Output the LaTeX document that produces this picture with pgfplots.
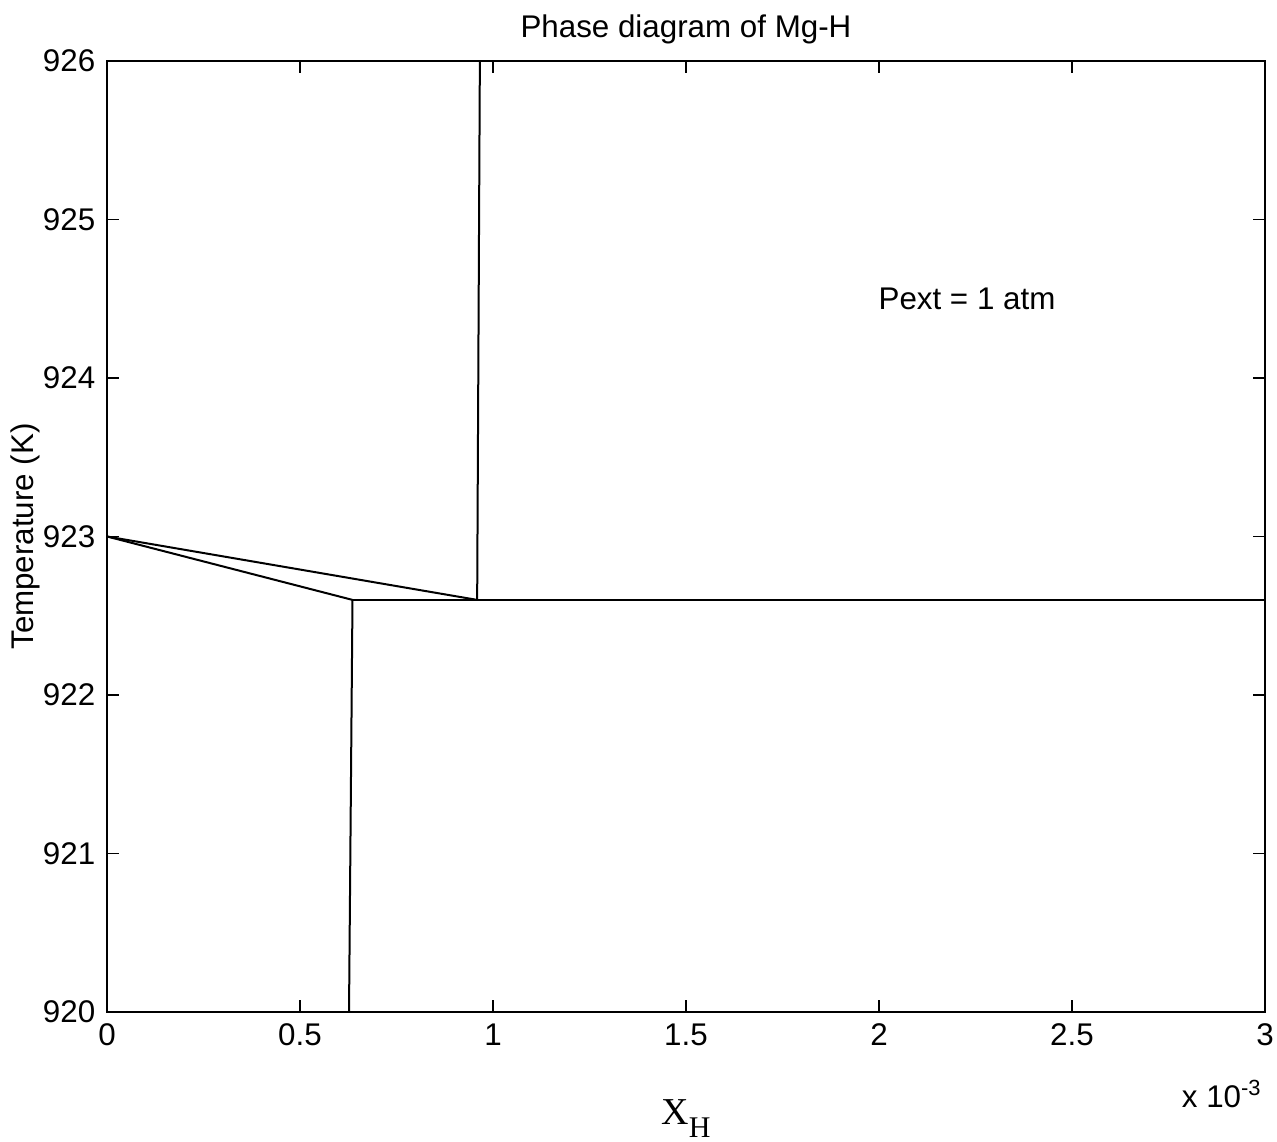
\documentclass[border=0pt]{standalone}
\usepackage{fontspec}
\setmainfont{Liberation Sans}
\newfontfamily\seriffont{Liberation Serif}
\usepackage{pgfplots}
\pgfplotsset{compat=1.18}
\begin{document}
\begin{tikzpicture}[font=\fontsize{9.4}{11}\selectfont]
\begin{axis}[
  scale only axis,
  width=347.4pt, height=285.3pt,
  xmin=0, xmax=0.003, ymin=920, ymax=926,
  xtick={0,0.0005,0.001,0.0015,0.002,0.0025,0.003},
  xticklabels={0,0.5,1,1.5,2,2.5,3},
  scaled x ticks=false,
  ytick={920,921,922,923,924,925,926},
  /pgf/number format/assume math mode=true,
  yticklabel style={/pgf/number format/1000 sep={}},
  tick align=inside,
  major tick length=3.6pt,
  tick style={black, line width=0.5pt},
  axis line style={line width=0.6pt},
  xtick pos=both, ytick pos=both,
  every axis title shift=0pt,
  title={Phase diagram of Mg-H},
  title style={at={(rel axis cs:0.5,1)}, anchor=center, yshift=9.6pt},
  xlabel={{\seriffont\fontsize{11.4}{13}\selectfont X\raisebox{-3.6pt}{\fontsize{9}{10}\selectfont H}}},
  xlabel style={at={(rel axis cs:0.5,0)}, anchor=base, yshift=-33.9pt},
  clip=false,
]
\coordinate (sw) at (rel axis cs:0,0);
\addplot[black, line width=0.6pt] coordinates {(0.000966,926) (0.000959,922.6)};
\addplot[black, line width=0.6pt] coordinates {(0,923) (0.000959,922.6)};
\addplot[black, line width=0.6pt] coordinates {(0,923) (0.000636,922.6)};
\addplot[black, line width=0.6pt] coordinates {(0.000636,922.6) (0.003,922.6)};
\addplot[black, line width=0.6pt] coordinates {(0.000636,922.6) (0.000627,920)};
\node[anchor=center] at (axis cs:0.002228,924.5) {Pext = 1 atm};
\node[rotate=90, anchor=center] at ([xshift=-24.6pt]rel axis cs:0,0.5) {Temperature (K)};
\node[anchor=base east, inner sep=0pt] at ([yshift=-28.8pt, xshift=-0.6pt]rel axis cs:1,0) {x 10\textsuperscript{-3}};
\end{axis}
\pgfresetboundingbox
\path (sw) ++(-32.1pt,-39pt) rectangle ++(383.1pt,342.6pt);
\end{tikzpicture}
\end{document}
